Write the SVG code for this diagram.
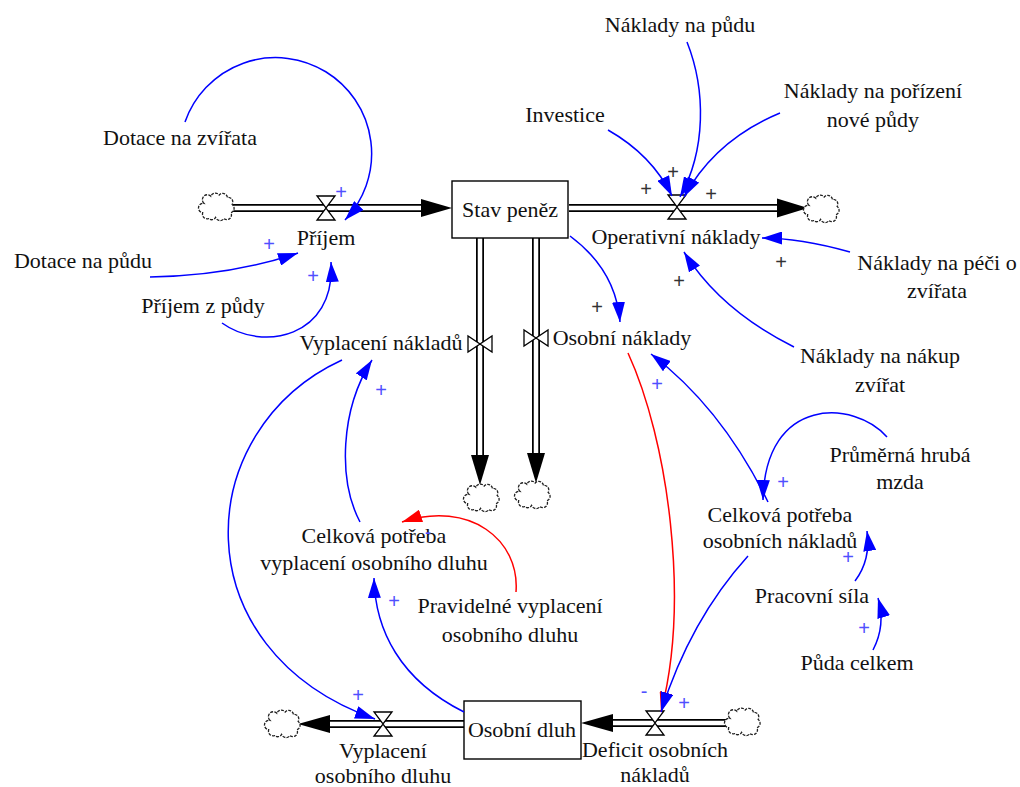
<svg xmlns="http://www.w3.org/2000/svg" width="1020" height="787" viewBox="0 0 1020 787">
  <style>
    .lbl { font-family: "Liberation Serif", "Times New Roman", serif; font-size: 22px; fill: #111; text-anchor: middle; }
    .pos { font-family: "Liberation Sans", Arial, sans-serif; font-size: 20px; fill: #5050ff; text-anchor: middle; }
    .posg { font-family: "Liberation Sans", Arial, sans-serif; font-size: 20px; fill: #333; text-anchor: middle; }
    .stock { fill: #fff; stroke: #000; stroke-width: 1.4; }
    .pipeO { fill: none; stroke: #000; stroke-width: 8; }
    .pipeI { fill: none; stroke: #fff; stroke-width: 4.5; }
    .valve { fill: #fff; stroke: #000; stroke-width: 1.3; stroke-linejoin: miter; }
    .head { fill: #000; }
    .cloud { fill: #fff; stroke: #222; stroke-width: 1.1; stroke-dasharray: 2.5 1; }
    .link { fill: none; stroke: #0000ff; stroke-width: 1.5; marker-end: url(#ab); }
    .neg { fill: none; stroke: #ff0000; stroke-width: 1.5; marker-end: url(#ar); }
  </style>
  <defs>
    <marker id="ab" viewBox="0 0 20 13" refX="20" refY="6.5" markerWidth="20" markerHeight="13" markerUnits="userSpaceOnUse" orient="auto">
      <path d="M0,0 L20,6.5 L0,13 z" fill="#0000ff"/>
    </marker>
    <marker id="ar" viewBox="0 0 20 13" refX="20" refY="6.5" markerWidth="20" markerHeight="13" markerUnits="userSpaceOnUse" orient="auto">
      <path d="M0,0 L20,6.5 L0,13 z" fill="#ff0000"/>
    </marker>
    <!-- cloud outline used at every source and sink -->
    <path id="cl" class="cloud" transform="scale(1.18)" d="M-12,-4 a4,4 0 0 1 6,-6 a4,4 0 0 1 7,-1 a4,4 0 0 1 7,2 a4,4 0 0 1 4,6 a4,4 0 0 1 -1,7 a4,4 0 0 1 -6,5 a4,4 0 0 1 -7,-1 a4,4 0 0 1 -6,1 a4,4 0 0 1 -5,-5 a4,4 0 0 1 1,-8 z"/>
    <path id="vh" class="valve" d="M-9,-12 L9,-12 L0,0 z M-9,12 L9,12 L0,0 z"/>
    <path id="vv" class="valve" d="M-12,-8 L-12,8 L0,0 z M12,-8 L12,8 L0,0 z"/>
  </defs>

  <rect width="1020" height="787" fill="#fff"/>

  <!-- flow pipes, clouds and arrowheads -->
  <g id="flows">
    <!-- Příjem -->
    <path class="pipeO" d="M231,208 H425"/>
    <path class="pipeI" d="M231,208 H425"/>
    <polygon class="head" points="421,199 452,208 421,217"/>
    <use href="#cl" x="218" y="208"/>
    <!-- Operativní náklady -->
    <path class="pipeO" d="M569,208 H780"/>
    <path class="pipeI" d="M569,208 H780"/>
    <polygon class="head" points="777,198.5 808,208 777,217.5"/>
    <use href="#cl" x="823" y="210"/>
    <!-- Vyplacení nákladů -->
    <path class="pipeO" d="M480,238 V458"/>
    <path class="pipeI" d="M480,238 V458"/>
    <polygon class="head" points="471,455 480,485 489,455"/>
    <use href="#cl" x="483" y="499"/>
    <!-- Osobní náklady -->
    <path class="pipeO" d="M536,238 V456"/>
    <path class="pipeI" d="M536,238 V456"/>
    <polygon class="head" points="527,453 536,483 545,453"/>
    <use href="#cl" x="534" y="496"/>
    <!-- Vyplacení osobního dluhu -->
    <path class="pipeO" d="M464,724 H327"/>
    <path class="pipeI" d="M464,724 H327"/>
    <polygon class="head" points="330,715 298,724 330,733"/>
    <use href="#cl" x="284" y="725"/>
    <!-- Deficit osobních nákladů -->
    <path class="pipeO" d="M730,723 H610"/>
    <path class="pipeI" d="M730,723 H610"/>
    <polygon class="head" points="613,714 581,723 613,732"/>
    <use href="#cl" x="744" y="723"/>
  </g>

  <!-- stocks -->
  <g id="stav-penez">
    <rect class="stock" x="452" y="181" width="116" height="57"/>
    <text class="lbl" x="510" y="217">Stav peněz</text>
  </g>
  <g id="osobni-dluh">
    <rect class="stock" x="464" y="701" width="117" height="58"/>
    <text class="lbl" x="522" y="737">Osobní dluh</text>
  </g>

  <!-- flow valves with their names -->
  <g id="prijem">
    <use href="#vh" x="326" y="208"/>
    <text class="lbl" x="326" y="245">Příjem</text>
  </g>
  <g id="operativni-naklady">
    <use href="#vh" x="677" y="207"/>
    <text class="lbl" x="676" y="244">Operativní náklady</text>
  </g>
  <g id="vyplaceni-nakladu">
    <use href="#vv" x="480" y="344"/>
    <text class="lbl" x="381" y="350">Vyplacení nákladů</text>
  </g>
  <g id="osobni-naklady">
    <use href="#vv" x="536" y="338"/>
    <text class="lbl" x="622" y="345">Osobní náklady</text>
  </g>
  <g id="vyplaceni-osobniho-dluhu">
    <use href="#vh" x="383" y="724"/>
    <text class="lbl" x="383" y="758">Vyplacení</text>
    <text class="lbl" x="383" y="783">osobního dluhu</text>
  </g>
  <g id="deficit-osobnich-nakladu">
    <use href="#vh" x="655" y="723"/>
    <text class="lbl" x="655" y="757">Deficit osobních</text>
    <text class="lbl" x="655" y="782">nákladů</text>
  </g>

  <!-- auxiliary variables -->
  <g id="dotace-na-zvirata"><text class="lbl" x="180" y="145">Dotace na zvířata</text></g>
  <g id="dotace-na-pudu"><text class="lbl" x="83" y="268">Dotace na půdu</text></g>
  <g id="prijem-z-pudy"><text class="lbl" x="203" y="313">Příjem z půdy</text></g>
  <g id="investice"><text class="lbl" x="565" y="122">Investice</text></g>
  <g id="naklady-na-pudu"><text class="lbl" x="680" y="32">Náklady na půdu</text></g>
  <g id="naklady-na-porizeni">
    <text class="lbl" x="873" y="98">Náklady na pořízení</text>
    <text class="lbl" x="873" y="127">nové půdy</text>
  </g>
  <g id="naklady-na-peci">
    <text class="lbl" x="937" y="270">Náklady na péči o</text>
    <text class="lbl" x="937" y="298">zvířata</text>
  </g>
  <g id="naklady-na-nakup">
    <text class="lbl" x="880" y="363">Náklady na nákup</text>
    <text class="lbl" x="880" y="392">zvířat</text>
  </g>
  <g id="prumerna-hruba-mzda">
    <text class="lbl" x="900" y="462">Průměrná hrubá</text>
    <text class="lbl" x="900" y="489">mzda</text>
  </g>
  <g id="celkova-potreba-osobnich">
    <text class="lbl" x="780" y="522">Celková potřeba</text>
    <text class="lbl" x="780" y="548">osobních nákladů</text>
  </g>
  <g id="pracovni-sila"><text class="lbl" x="812" y="603">Pracovní síla</text></g>
  <g id="puda-celkem"><text class="lbl" x="857" y="670">Půda celkem</text></g>
  <g id="celkova-potreba-vyplaceni">
    <text class="lbl" x="374" y="543">Celková potřeba</text>
    <text class="lbl" x="374" y="570">vyplacení osobního dluhu</text>
  </g>
  <g id="pravidelne-vyplaceni">
    <text class="lbl" x="510" y="613">Pravidelné vyplacení</text>
    <text class="lbl" x="510" y="642">osobního dluhu</text>
  </g>

  <!-- causal links -->
  <g id="links">
    <path class="link" d="M185,122 A96,96 0 1 1 345,220"/>
    <path class="link" d="M150,277 Q230,276 298,253"/>
    <path class="link" d="M222,323 C262,352 336,338 331,262"/>
    <path class="link" d="M608,130 Q652,155 672,196"/>
    <path class="link" d="M687,42 C706,90 706,150 680,197"/>
    <path class="link" d="M780,113 Q715,140 684,197"/>
    <path class="link" d="M850,252 Q800,238 762,238"/>
    <path class="link" d="M794,347 Q720,310 684,252"/>
    <path class="link" d="M570,236 Q616,270 620,322"/>
    <path class="link" d="M768,502 Q722,408 651,354"/>
    <path class="link" d="M887,437 C855,400 765,395 763,500"/>
    <path class="link" d="M855,581 Q871,560 867,531"/>
    <path class="link" d="M873,650 Q886,625 878,598"/>
    <path class="neg" d="M628,353 C668,440 690,600 661,712"/>
    <path class="link" d="M748,556 Q690,620 661,712"/>
    <path class="link" d="M342,360 C190,430 180,650 375,719"/>
    <path class="link" d="M360,522 C338,480 340,410 372,360"/>
    <path class="link" d="M464,712 C400,680 375,630 374,578"/>
    <path class="neg" d="M516,592 C520,540 470,500 402,522"/>
  </g>

  <!-- link polarities -->
  <g id="polarities">
    <text class="pos" x="341" y="199">+</text>
    <text class="pos" x="269" y="251">+</text>
    <text class="pos" x="313" y="283">+</text>
    <text class="posg" x="646" y="196">+</text>
    <text class="posg" x="673" y="179">+</text>
    <text class="posg" x="711" y="201">+</text>
    <text class="posg" x="781" y="269">+</text>
    <text class="posg" x="679" y="288">+</text>
    <text class="posg" x="597" y="314">+</text>
    <text class="pos" x="657" y="391">+</text>
    <text class="pos" x="783" y="489">+</text>
    <text class="pos" x="848" y="564">+</text>
    <text class="pos" x="864" y="635">+</text>
    <text class="pos" x="644" y="698">-</text>
    <text class="pos" x="684" y="710">+</text>
    <text class="pos" x="358" y="702">+</text>
    <text class="pos" x="381" y="397">+</text>
    <text class="pos" x="394" y="608">+</text>
    <text class="pos" x="428" y="539">-</text>
  </g>
</svg>
